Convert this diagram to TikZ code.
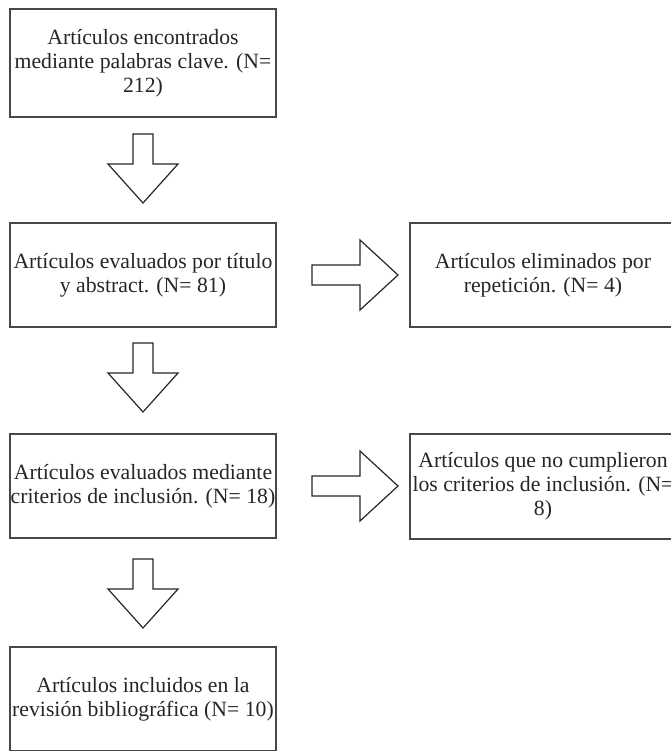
\documentclass[tikz,border=0pt]{standalone}
\usepackage{fontspec}
\setmainfont{Liberation Serif}
\usetikzlibrary{calc}
\begin{document}
\begin{tikzpicture}[x=0.75pt,y=-0.75pt,
  box/.style={draw=black!72, line width=1.2pt, rectangle, inner sep=0pt, outer sep=0pt,
    minimum width=199.5pt, minimum height=78pt, anchor=north west, align=center,
    text=black!85, font=\fontsize{16.3}{18}\selectfont},
  barrow/.style={draw=black!85, line width=0.9pt, fill=white, line join=miter},
  downarrow/.pic={\draw[barrow] (-10,0) -- (10,0) -- (10,30) -- (35,30) -- (0,69) -- (-35,30) -- (-10,30) -- cycle;},
  rightarrow/.pic={\draw[barrow] (0,-10) -- (48,-10) -- (48,-35) -- (86,0) -- (48,35) -- (48,10) -- (0,10) -- cycle;}
]
\useasboundingbox (0,0) rectangle (671,751);

\node[box, minimum height=81pt] (b1) at (10,9) {Artículos encontrados\\mediante palabras clave. (N=\\212)};
\node[box] (b2) at (10,223) {Artículos evaluados por título\\y abstract. (N= 81)};
\node[box] (b3) at (410,223) {Artículos eliminados por\\repetición. (N= 4)};
\node[box] (b4) at (10,434) {Artículos evaluados mediante\\criterios de inclusión. (N= 18)};
\node[box, minimum height=78.75pt] (b5) at (410,434) {Artículos que no cumplieron\\los criterios de inclusión. (N=\\8)};
\node[box] (b6) at (10,647) {Artículos incluidos en la\\revisión bibliográfica (N= 10)};

\pic at ($(b1.south)+(0,17)$) {downarrow};
\pic at ($(b2.south)+(0,16)$) {downarrow};
\pic at ($(b4.south)+(0,21)$) {downarrow};
\pic at ($(b2.east)+(36,0)$) {rightarrow};
\pic at ($(b4.east)+(36,0)$) {rightarrow};
\end{tikzpicture}
\end{document}
